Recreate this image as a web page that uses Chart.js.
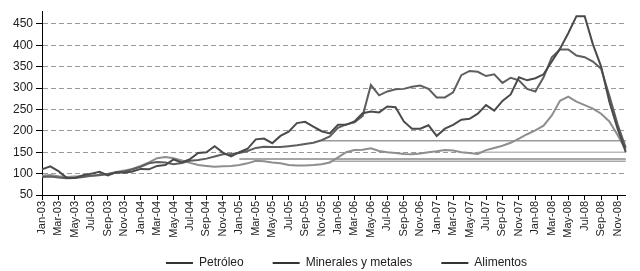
<!DOCTYPE html>
<html><head><meta charset="utf-8">
<script src="https://cdn.jsdelivr.net/npm/chart.js@4.4.0/dist/chart.umd.min.js"></script>
<style>html,body{margin:0;padding:0;background:#fff;}#wrap{width:640px;height:271px;}</style>
</head><body><div id="wrap"><canvas id="c" width="640" height="271"></canvas></div>
<script>
const months = [
 'Jan-03','Feb-03','Mar-03','Apr-03','May-03','Jun-03','Jul-03','Aug-03','Sep-03','Oct-03','Nov-03','Dec-03',
 'Jan-04','Feb-04','Mar-04','Apr-04','May-04','Jun-04','Jul-04','Aug-04','Sep-04','Oct-04','Nov-04','Dec-04',
 'Jan-05','Feb-05','Mar-05','Apr-05','May-05','Jun-05','Jul-05','Aug-05','Sep-05','Oct-05','Nov-05','Dec-05',
 'Jan-06','Feb-06','Mar-06','Apr-06','May-06','Jun-06','Jul-06','Aug-06','Sep-06','Oct-06','Nov-06','Dec-06',
 'Jan-07','Feb-07','Mar-07','Apr-07','May-07','Jun-07','Jul-07','Aug-07','Sep-07','Oct-07','Nov-07','Dec-07',
 'Jan-08','Feb-08','Mar-08','Apr-08','May-08','Jun-08','Jul-08','Aug-08','Sep-08','Oct-08','Nov-08','Dec-08'
];
const petroleo = [
 110,117,106,90,90,96,100,104,96,103,102,105,
 111,110,118,120,133,126,134,148,150,164,149,140,
 150,158,180,182,171,188,198,218,221,210,199,194,
 214,214,222,241,245,243,257,255,222,205,205,213,
 188,205,214,226,228,240,260,247,270,285,325,318,
 323,332,362,392,428,468,468,402,350,268,205,150
];
const minerales = [
 92,93,91,89,90,92,95,97,99,102,105,110,
 116,124,127,126,122,125,130,132,135,140,145,146,
 148,153,160,163,162,162,164,166,169,172,178,187,
 207,215,220,235,307,283,292,297,298,303,306,298,
 278,278,290,330,340,338,328,332,312,324,318,298,
 292,325,372,390,390,376,372,362,345,282,215,160
];
const alimentos = [
 95,97,94,92,93,94,95,96,99,104,107,111,
 118,126,136,139,136,131,125,120,118,116,117,118,
 120,124,130,129,126,124,120,119,119,120,122,126,
 138,150,155,156,159,153,150,148,146,145,147,150,
 152,155,154,150,148,146,155,160,165,172,182,192,
 201,212,236,270,280,268,260,252,240,222,190,155
];
// flat straight segments visible in the picture (start month, end month, level)
const flatA = [{x:'Nov-05', y:177},{x:'Dec-08', y:177}];
const flatB = [{x:'Jan-05', y:134},{x:'Dec-08', y:134}];
const flatC = [{x:'Jun-07', y:150},{x:'Dec-08', y:150}];
const flatD = [{x:'Dec-05', y:129},{x:'Dec-08', y:129}];
const seriesNames = ['Petróleo','Minerales y metales','Alimentos'];
const yTicks = [50,100,150,200,250,300,350,400,450];

const FONT = "'Liberation Sans', Arial, sans-serif";
const LEG_DX = 56, LEG_DY = 8;

const shiftLegend = {
  id: 'shiftLegend',
  afterLayout(chart) {
    const l = chart.legend;
    if (l) { l.left += LEG_DX; l.top += LEG_DY; l.bottom += LEG_DY; }
    const x = chart.scales.x;
    if (x) { x.bottom = 250; }
  }
};

function line(label, data, color, w) {
  return {label, data, borderColor: color, backgroundColor: color, borderWidth: w,
          pointRadius: 0, tension: 0, fill: false};
}

new Chart(document.getElementById('c'), {
  type: 'line',
  data: {
    labels: months,
    datasets: [
      line(seriesNames[0], petroleo, '#4a4a4a', 2),
      line(seriesNames[1], minerales, '#5e5e5e', 2),
      line(seriesNames[2], alimentos, '#8e8e8e', 2),
      line('a', flatA, '#9a9a9a', 1.5),
      line('b', flatB, '#8a8a8a', 1.5),
      line('c', flatC, '#bbbbbb', 1.5),
      line('d', flatD, '#aaaaaa', 1.5)
    ]
  },
  options: {
    responsive: false,
    devicePixelRatio: 1,
    animation: false,
    layout: {padding: {left: 0, right: 3, top: 11, bottom: 0}},
    plugins: {
      tooltip: {enabled: false},
      legend: {
        position: 'bottom',
        labels: {
          usePointStyle: true, pointStyle: 'line', pointStyleWidth: 27, boxHeight: 12,
          padding: 29, color: '#222', font: {family: FONT, size: 12},
          filter: item => item.datasetIndex < 3,
          generateLabels: chart => {
            const items = Chart.defaults.plugins.legend.labels.generateLabels(chart);
            items.forEach(i => { i.strokeStyle = '#333'; i.lineWidth = 2; });
            return items;
          }
        }
      }
    },
    scales: {
      x: {
        type: 'category',
        offset: false,
        afterFit: s => { const lh = (s.chart.legend && s.chart.legend.height) || 51; s.height = s.chart.height - lh - 195; },
        grid: {drawOnChartArea: false, drawTicks: true, tickLength: 5, tickWidth: 1,
               tickColor: ctx => (ctx.index % 2 === 0 ? '#000' : 'rgba(0,0,0,0)')},
        border: {color: '#000', width: 1},
        ticks: {autoSkip: false, maxRotation: 90, minRotation: 90, padding: 1, color: '#222',
                font: {family: FONT, size: 11},
                callback: (v, i) => (i % 2 === 0 ? months[i] : '')}
      },
      y: {
        min: 50, max: 480,
        afterFit: s => { s.width = 42; },
        afterBuildTicks: s => { s.ticks = yTicks.map(v => ({value: v})); },
        grid: {color: '#999', lineWidth: 1, drawTicks: true, tickLength: 6, tickColor: '#000', tickBorderDash: []},
        border: {color: '#000', width: 1, dash: [5, 3]},
        ticks: {stepSize: 50, padding: 3, color: '#222', font: {family: FONT, size: 12}}
      }
    }
  },
  plugins: [shiftLegend]
});
</script>
</body></html>
